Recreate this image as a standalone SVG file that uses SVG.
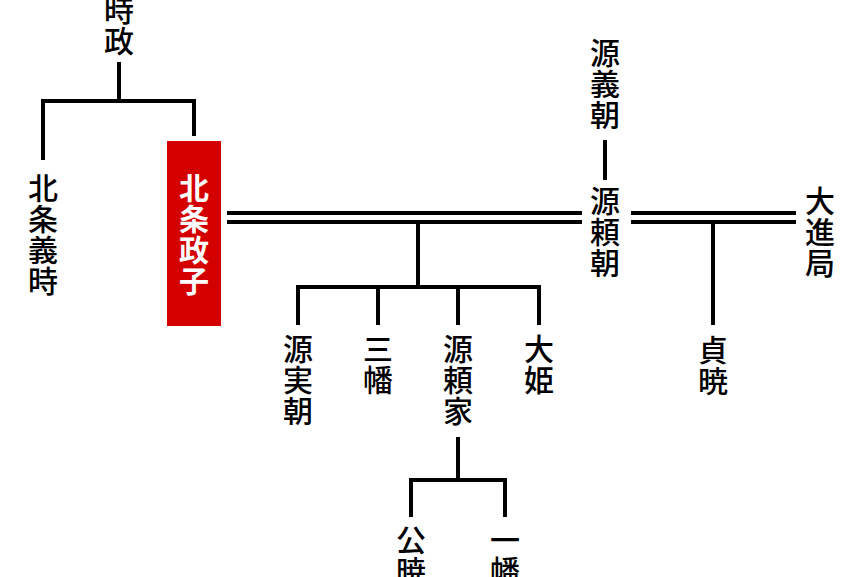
<svg xmlns="http://www.w3.org/2000/svg" width="864" height="577" viewBox="0 0 864 577">
<style>
.t{font-family:"Noto Sans CJK JP","Noto Sans CJK SC",sans-serif;font-size:30px;font-weight:500;fill:#000;writing-mode:vertical-rl;text-orientation:upright;letter-spacing:1px;text-anchor:start}
.w{fill:#fff;font-weight:700}
.c{stroke:#000;stroke-width:4;fill:none;stroke-linecap:butt}
</style>
<rect width="864" height="577" fill="#fff"/>
<g id="connectors" class="c">
<path d="M119 62V101M43 101H194M43 99V160M194 99V136"/>
<path d="M227 213H582M227 222H582M631 213H796M631 222H796"/>
<path d="M605 140V180"/>
<path d="M418 222V287M298 287H539M298 285V325M378 287V325M458 287V325M539 285V325"/>
<path d="M713 222V325"/>
<path d="M458 437V480M411 480H505M411 478V517M505 478V517"/>
</g>
<g id="tokimasa"><text class="t" x="119" y="-5">時政</text></g>
<g id="yoshitoki"><text class="t" x="43" y="173">北条義時</text></g>
<g id="masako"><rect x="167" y="141" width="54" height="185" fill="#d40000"/><text class="t w" x="194" y="173">北条政子</text></g>
<g id="yoshitomo"><text class="t" x="605" y="38">源義朝</text></g>
<g id="yoritomo"><text class="t" x="605" y="186">源頼朝</text></g>
<g id="daishin"><text class="t" x="820" y="186">大進局</text></g>
<g id="sanetomo"><text class="t" x="298" y="334">源実朝</text></g>
<g id="sanman"><text class="t" x="378" y="334">三幡</text></g>
<g id="yoriie"><text class="t" x="458" y="334">源頼家</text></g>
<g id="ohime"><text class="t" x="539" y="334">大姫</text></g>
<g id="teigyo"><text class="t" x="713" y="335">貞暁</text></g>
<g id="kugyo"><text class="t" x="411" y="525">公暁</text></g>
<g id="ichiman"><text class="t" x="505" y="525">一幡</text></g>
</svg>
